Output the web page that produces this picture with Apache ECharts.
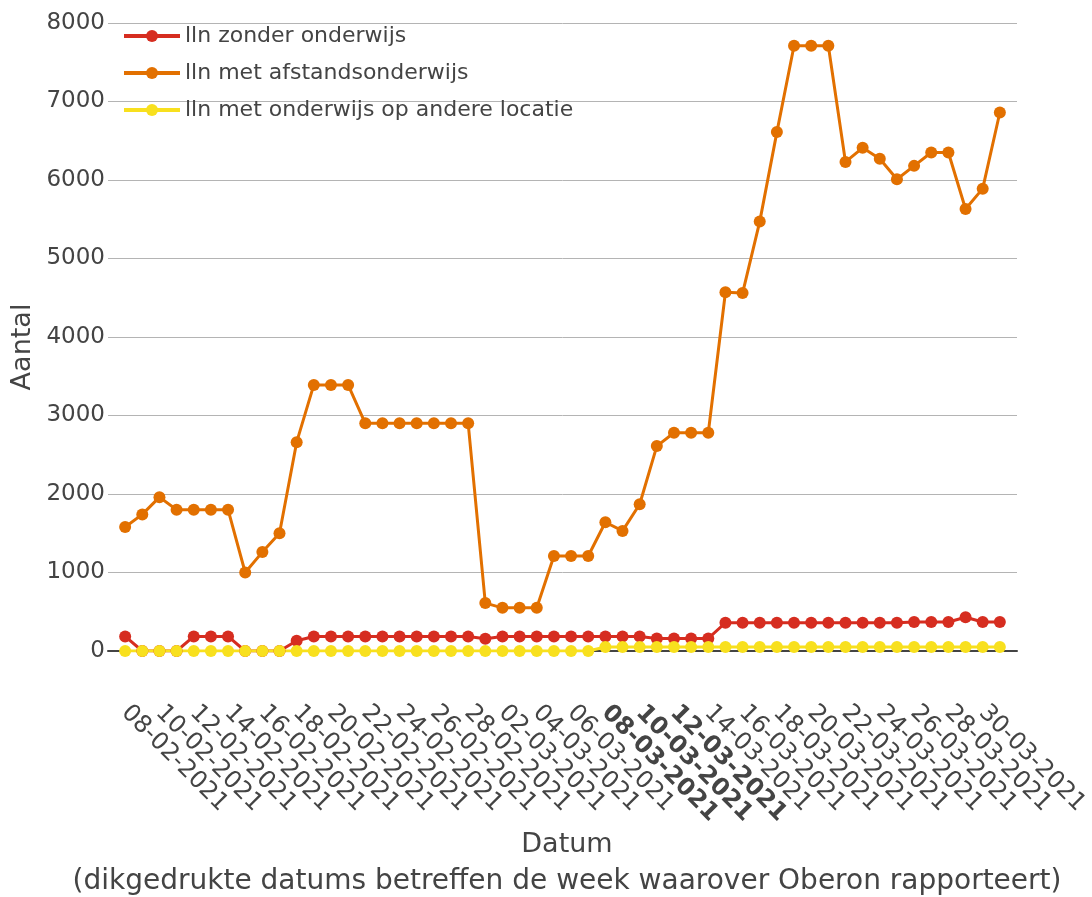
<!DOCTYPE html>
<html>
<head>
<meta charset="utf-8">
<script src="https://cdn.jsdelivr.net/npm/echarts@6/dist/echarts.min.js"></script>
<style>
  html, body { margin: 0; padding: 0; background: #fff; }
  #chart { width: 1092px; height: 897px; }
</style>
</head>
<body>
<div id="chart"></div>
<script>
// datums (dagelijks)
const dates = [
  '08-02-2021', '09-02-2021', '10-02-2021', '11-02-2021', '12-02-2021', '13-02-2021', '14-02-2021',
  '15-02-2021', '16-02-2021', '17-02-2021', '18-02-2021', '19-02-2021', '20-02-2021', '21-02-2021',
  '22-02-2021', '23-02-2021', '24-02-2021', '25-02-2021', '26-02-2021', '27-02-2021', '28-02-2021',
  '01-03-2021', '02-03-2021', '03-03-2021', '04-03-2021', '05-03-2021', '06-03-2021', '07-03-2021',
  '08-03-2021', '09-03-2021', '10-03-2021', '11-03-2021', '12-03-2021', '13-03-2021', '14-03-2021',
  '15-03-2021', '16-03-2021', '17-03-2021', '18-03-2021', '19-03-2021', '20-03-2021', '21-03-2021',
  '22-03-2021', '23-03-2021', '24-03-2021', '25-03-2021', '26-03-2021', '27-03-2021', '28-03-2021',
  '29-03-2021', '30-03-2021', '31-03-2021'
];
// dikgedrukte datums
const boldDates = ['08-03-2021', '10-03-2021', '12-03-2021'];

const zonderOnderwijs = [
  185, 0, 0, 0, 185, 185, 185, 0, 0, 0, 130,
  185, 185, 185, 185, 185, 185, 185, 185, 185, 185,
  155,
  185, 185, 185, 185, 185, 185, 185, 185, 185,
  160, 160, 160, 160,
  360, 360, 360, 360, 360, 360, 360, 360, 360, 360, 360,
  370, 370, 370, 430, 370, 370
];
const afstandsonderwijs = [
  1580, 1740, 1960, 1800, 1800, 1800, 1800, 1000, 1260, 1500, 2660,
  3390, 3390, 3390, 2900, 2900, 2900, 2900, 2900, 2900, 2900,
  610, 550, 550, 550, 1210, 1210, 1210, 1640, 1530, 1870, 2610,
  2780, 2780, 2780, 4570, 4560, 5470, 6610, 7710, 7710, 7710,
  6230, 6410, 6270, 6010, 6180, 6350, 6350, 5630, 5890, 6860
];
const andereLocatie = [
  0, 0, 0, 0, 0, 0, 0, 0, 0, 0, 0, 0, 0, 0,
  0, 0, 0, 0, 0, 0, 0, 0, 0, 0, 0, 0, 0, 0,
  50, 50, 50, 50, 50, 50, 50, 50, 50, 50, 50, 50,
  50, 50, 50, 50, 50, 50, 50, 50, 50, 50, 50, 50
];

const font = 'DejaVu Sans, Verdana, sans-serif';
const textColor = '#444';

const toPairs = (arr) => arr.map((v, i) => [i, v]);

const chart = echarts.init(document.getElementById('chart'));
const option = {
  backgroundColor: '#fff',
  animation: false,
  textStyle: { fontFamily: font },
  title: [
    {
      text: 'Datum',
      left: 562, top: 826, textAlign: 'center',
      textStyle: { fontFamily: font, fontSize: 27, fontWeight: 'normal', color: textColor }
    },
    {
      text: '(dikgedrukte datums betreffen de week waarover Oberon rapporteert)',
      left: 562, top: 863, textAlign: 'center',
      textStyle: { fontFamily: font, fontSize: 28, fontWeight: 'normal', color: textColor }
    }
  ],
  graphic: [
    {
      type: 'text',
      x: 23, y: 347,
      rotation: Math.PI / 2,
      style: {
        text: 'Aantal',
        fontFamily: font, fontSize: 27, fill: textColor,
        align: 'center', verticalAlign: 'middle'
      }
    }
  ],
  legend: {
    orient: 'vertical',
    left: 117, top: 19,
    itemWidth: 56, itemHeight: 15, itemGap: 13,
    lineStyle: { width: 4 },
    textStyle: { fontFamily: font, fontSize: 22, color: textColor, lineHeight: 24 },
    data: ['lln zonder onderwijs', 'lln met afstandsonderwijs', 'lln met onderwijs op andere locatie']
  },
  grid: { left: 108, right: 75, top: 23, bottom: 246, outerBoundsMode: 'none' },
  xAxis: {
    type: 'value',
    min: -1, max: 52, interval: 1,
    splitLine: { show: false },
    axisTick: { show: false },
    axisLine: { show: true, lineStyle: { color: '#444', width: 2 } },
    axisLabel: {
      rotate: -45,
      margin: 58,
      fontFamily: font, fontSize: 24, color: textColor,
      showMinLabel: true, showMaxLabel: true,
      formatter: (v) => {
        if (v < 0 || v % 2 !== 0 || !dates[v]) return '';
        return boldDates.includes(dates[v]) ? '{b|' + dates[v] + '}' : dates[v];
      },
      rich: {
        b: { fontFamily: font, fontSize: 24, fontWeight: 'bold', color: textColor }
      }
    }
  },
  yAxis: {
    type: 'value',
    min: 0, max: 8000, interval: 1000,
    axisLine: { show: false },
    axisTick: { show: false },
    axisLabel: { fontFamily: font, fontSize: 23, color: textColor, margin: 3, formatter: (v) => String(v) },
    splitLine: { lineStyle: { color: '#b4b4b4', width: 1 } }
  },
  series: [
    {
      name: 'lln zonder onderwijs',
      type: 'line',
      data: toPairs(zonderOnderwijs),
      symbol: 'circle', symbolSize: 12, showAllSymbol: true,
      lineStyle: { color: '#d62d20', width: 3 },
      itemStyle: { color: '#d62d20' }
    },
    {
      name: 'lln met afstandsonderwijs',
      type: 'line',
      data: toPairs(afstandsonderwijs),
      symbol: 'circle', symbolSize: 12, showAllSymbol: true,
      lineStyle: { color: '#e27000', width: 3 },
      itemStyle: { color: '#e27000' }
    },
    {
      name: 'lln met onderwijs op andere locatie',
      type: 'line',
      data: toPairs(andereLocatie),
      symbol: 'circle', symbolSize: 12, showAllSymbol: true,
      lineStyle: { color: '#f8e01e', width: 3 },
      itemStyle: { color: '#f8e01e' }
    }
  ]
};
chart.setOption(option);
</script>
</body>
</html>
